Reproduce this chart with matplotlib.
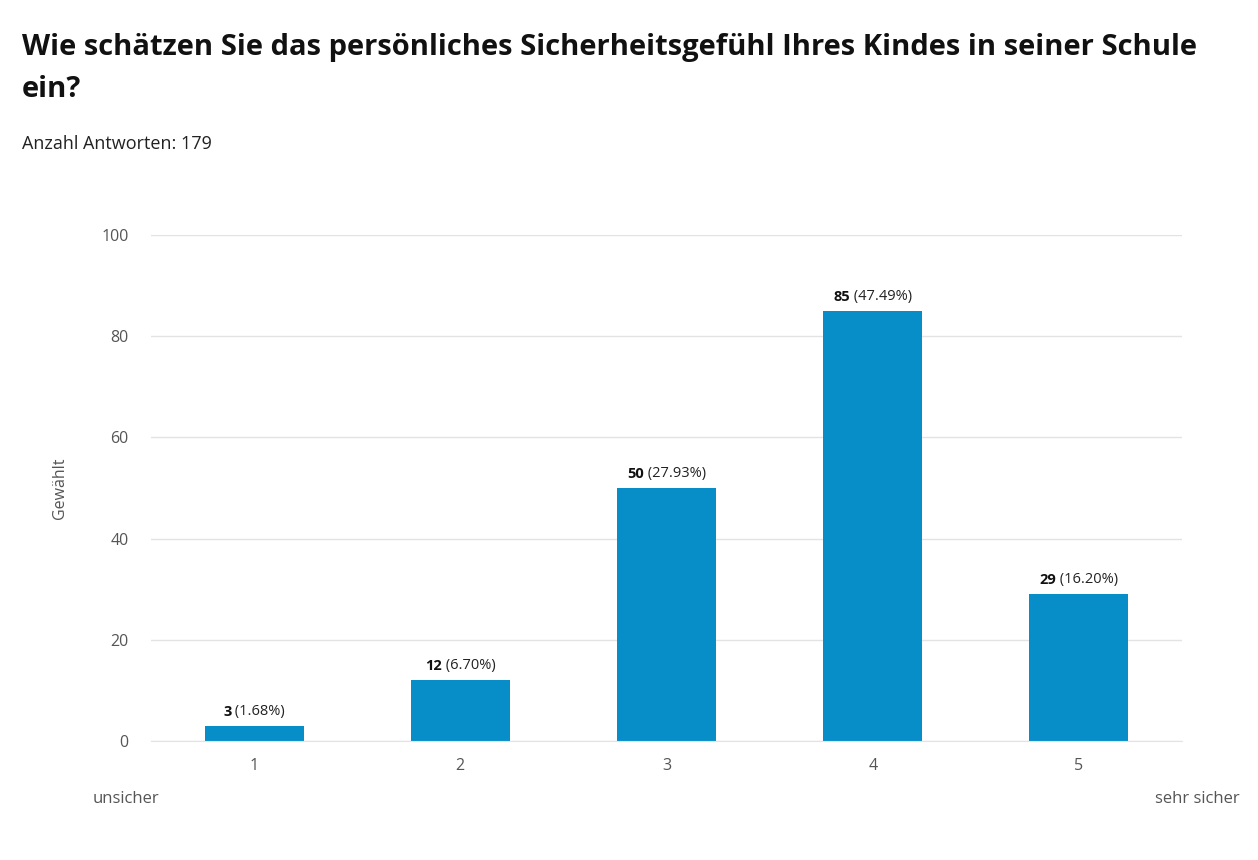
import matplotlib.pyplot as plt

categories = ["1", "2", "3", "4", "5"]
counts = [3, 12, 50, 85, 29]
percents = ["1.68%", "6.70%", "27.93%", "47.49%", "16.20%"]
yticks = [0, 20, 40, 60, 80, 100]

plt.rcParams["font.family"] = ["Open Sans", "DejaVu Sans"]

fig = plt.figure(figsize=(12.58, 8.60), dpi=100)
ax = fig.add_axes([0.1200, 0.1384, 0.8196, 0.5884])

x = range(len(categories))
ax.bar(x, counts, width=0.48, color="#078ec8", zorder=2)

ax.set_xlim(-0.5, 4.5)
ax.set_ylim(0, 100)
ax.set_yticks(yticks)
ax.set_xticks(list(x))
ax.set_xticklabels(categories)
ax.grid(axis="y", color="#e3e3e3", linewidth=1, zorder=0)
for s in ["top", "right", "left"]:
    ax.spines[s].set_visible(False)
ax.spines["bottom"].set_color("#e3e3e3")
ax.tick_params(axis="both", length=0, colors="#555555", labelsize=11.5)
ax.tick_params(axis="y", pad=16)
ax.tick_params(axis="x", pad=12)
ax.set_ylabel("Gewählt", color="#555555", fontsize=11.5)
ax.yaxis.set_label_coords(-0.08, 0.5)

for i, (c, p) in enumerate(zip(counts, percents)):
    ax.annotate(str(c), (i, c), xytext=(0, 5), textcoords="offset points",
                ha="right", va="bottom", fontsize=10.5, fontweight="bold", color="#111111")
    ax.annotate(f" ({p})", (i, c), xytext=(0, 5), textcoords="offset points",
                ha="left", va="bottom", fontsize=10.5, color="#222222")

fig.canvas.draw()
# center the pair over each bar
r = fig.canvas.get_renderer()
texts = ax.texts
for i in range(len(counts)):
    a, b = texts[2 * i], texts[2 * i + 1]
    wa = a.get_window_extent(r).width
    wb = b.get_window_extent(r).width
    shift = (wa - wb) / 2 * 72 / fig.dpi
    for t in (a, b):
        t.set_position((shift, 5))

fig.text(0.0175, 0.962, "Wie schätzen Sie das persönliches Sicherheitsgefühl Ihres Kindes in seiner Schule\nein?",
         fontsize=21, fontweight="bold", va="top", ha="left", linespacing=1.6, color="#111111")
fig.text(0.0175, 0.833, "Anzahl Antworten: 179", fontsize=13, va="center", ha="left", color="#222222")
fig.text(0.074, 0.071, "unsicher", fontsize=12, color="#555555", va="center", ha="left")
fig.text(0.985, 0.071, "sehr sicher", fontsize=12, color="#555555", va="center", ha="right")

fig.savefig("out.png", dpi=100, facecolor="white")
